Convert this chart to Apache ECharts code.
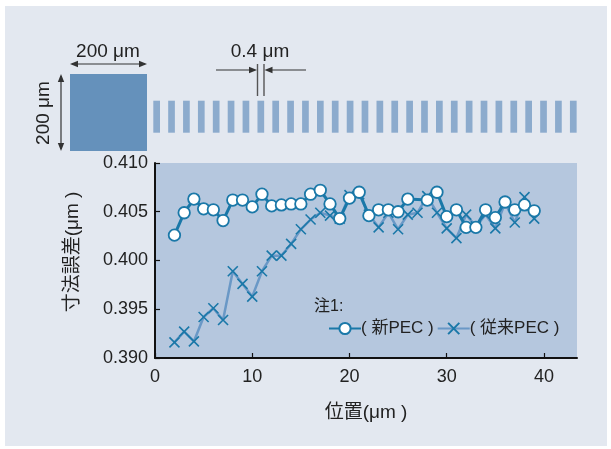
<!DOCTYPE html>
<html>
<head>
<meta charset="utf-8">
<script src="https://cdn.jsdelivr.net/npm/echarts@6/dist/echarts.min.js"></script>
<style>
html,body{margin:0;padding:0;background:#ffffff;}
#chart{width:611px;height:449px;}
</style>
</head>
<body>
<div id="chart"></div>
<script>
// ---- data ----
const xTicks = [0, 10, 20, 30, 40];
const yTicks = [0.390, 0.395, 0.400, 0.405, 0.410];
const newX    = [2,3,4,5,6,7,8,9,10,11,12,13,14,15,16,17,18,19,20,21,22,23,24,25,26,28,29,30,31,32,33,34,35,36,37,38,39];
const newVals = [0.4026,0.4049,0.4063,0.4053,0.4052,0.4041,0.4062,0.4062,0.4055,0.4068,0.4056,0.4057,0.4058,0.4058,0.4068,0.4072,0.4058,0.4043,0.4064,0.4070,0.4046,0.4052,0.4052,0.4050,0.4063,0.4062,0.4070,0.4045,0.4052,0.4034,0.4034,0.4052,0.4044,0.4060,0.4052,0.4057,0.4051];
const convX    = [2,3,4,5,6,7,8,9,10,11,12,13,14,15,16,17,18,19,20,21,22,23,24,25,26,27,28,29,30,31,32,33,34,35,36,37,38,39];
const convVals = [0.3916,0.3927,0.3917,0.3942,0.3951,0.3939,0.3989,0.3976,0.3963,0.3989,0.4005,0.4005,0.4017,0.4032,0.4042,0.4049,0.4046,0.4043,0.4067,0.4068,0.4047,0.4034,0.4049,0.4032,0.4047,0.4049,0.4066,0.4049,0.4033,0.4023,0.4047,0.4035,0.4047,0.4033,0.4059,0.4039,0.4065,0.4043];
const seriesNames = ['( 新PEC )', '( 従来PEC )'];
const yName = '寸法誤差(μm )';
const xName = '位置(μm )';
const noteText = '注1:';

const FONT = '"Liberation Sans", "Noto Sans CJK JP", sans-serif';
const TXT = '#222222';

const chart = echarts.init(document.getElementById('chart'), null, {renderer: 'canvas'});

// top diagram graphics
const g = [];
g.push({type:'rect', z:-100, shape:{x:5,y:6,width:602,height:440}, style:{fill:'#e3e8f0'}});
g.push({type:'rect', shape:{x:70,y:74,width:77,height:77}, style:{fill:'#6591bb'}});
for (let k = 0; k < 29; k++) {
  g.push({type:'rect', shape:{x:153.3 + k*14.88, y:100.7, width:6.7, height:32}, style:{fill:'#8cabcd'}});
}
const LC = '#333333';
function arrowHead(tx, ty, dir) {
  const L = 8, W = 3.2;
  let pts;
  if (dir === 'r') pts = [[tx,ty],[tx-L,ty-W],[tx-L,ty+W]];
  if (dir === 'l') pts = [[tx,ty],[tx+L,ty-W],[tx+L,ty+W]];
  if (dir === 'u') pts = [[tx,ty],[tx-W,ty+L],[tx+W,ty+L]];
  if (dir === 'd') pts = [[tx,ty],[tx-W,ty-L],[tx+W,ty-L]];
  return {type:'polygon', shape:{points:pts}, style:{fill:LC}};
}
// horizontal 200um
g.push({type:'line', shape:{x1:72,y1:64,x2:145,y2:64}, style:{stroke:LC,lineWidth:1.2}});
g.push(arrowHead(70,64,'l'));
g.push(arrowHead(147,64,'r'));
g.push({type:'text', style:{text:'200 μm', x:108, y:52, align:'center', verticalAlign:'middle', font:'19px '+FONT, fill:TXT}});
// vertical 200um
g.push({type:'line', shape:{x1:61,y1:76,x2:61,y2:149}, style:{stroke:LC,lineWidth:1.2}});
g.push(arrowHead(61,74,'u'));
g.push(arrowHead(61,151,'d'));
g.push({type:'text', rotation:Math.PI/2, x:44, y:113, style:{text:'200 μm', x:0, y:0, align:'center', verticalAlign:'middle', font:'19px '+FONT, fill:TXT}});
// 0.4 um
g.push({type:'line', shape:{x1:257.5,y1:64,x2:257.5,y2:96}, style:{stroke:'#555555',lineWidth:1.4}});
g.push({type:'line', shape:{x1:264,y1:64,x2:264,y2:96}, style:{stroke:'#555555',lineWidth:1.4}});
g.push({type:'line', shape:{x1:216,y1:70,x2:251,y2:70}, style:{stroke:LC,lineWidth:1.2}});
g.push(arrowHead(257,70,'r'));
g.push({type:'line', shape:{x1:270,y1:70,x2:306,y2:70}, style:{stroke:LC,lineWidth:1.2}});
g.push(arrowHead(264.5,70,'l'));
g.push({type:'text', style:{text:'0.4 μm', x:260, y:52, align:'center', verticalAlign:'middle', font:'19px '+FONT, fill:TXT}});
// axis names
g.push({type:'text', rotation:Math.PI/2, x:73, y:252, style:{text:yName, x:0, y:0, align:'center', verticalAlign:'middle', font:'19px '+FONT, fill:TXT}});
g.push({type:'text', style:{text:xName, x:366, y:413, align:'center', verticalAlign:'middle', font:'19px '+FONT, fill:TXT}});
// note
g.push({type:'text', z:10, style:{text:noteText, x:314, y:307, align:'left', verticalAlign:'middle', font:'16px '+FONT, fill:TXT}});

const newData = newX.map((x, i) => [x, newVals[i]]);
const convData = convX.map((x, i) => [x, convVals[i]]);

const option = {
  animation: false,
  backgroundColor: 'transparent',
  graphic: g,
  grid: {left:155, top:163, right:34, bottom:91, show:true, backgroundColor:'#b5c7de', borderWidth:0},
  legend: {
    data: seriesNames,
    left: 323, top: 315,
    itemWidth: 32, itemHeight: 14, itemGap: 3,
    textStyle: {fontSize:17, fontFamily:FONT, color:TXT, padding:[0,0,0,-5]}
  },
  xAxis: {
    type:'value', min:0, max:43.4,
    axisLine:{show:true, lineStyle:{color:'#111', width:2}},
    axisTick:{show:true, inside:true, length:5, customValues:xTicks, lineStyle:{color:'#111', width:1.2}},
    axisLabel:{customValues:xTicks, margin:10, fontSize:18, fontFamily:FONT, color:TXT},
    splitLine:{show:false}
  },
  yAxis: {
    type:'value', min:0.390, max:0.410,
    axisLine:{show:true, lineStyle:{color:'#111', width:2}},
    axisTick:{show:true, inside:true, length:5, customValues:yTicks, lineStyle:{color:'#111', width:1.2}},
    axisLabel:{customValues:yTicks, margin:7, fontSize:18, fontFamily:FONT, color:TXT, formatter:v => v.toFixed(3)},
    splitLine:{show:false}
  },
  series: [
    {
      name: seriesNames[1], type:'line', data: convData, z:2,
      symbol:'path://M0,0L10,10M10,0L0,10', symbolSize:10,
      lineStyle:{color:'#6a98c6', width:2.5},
      itemStyle:{color:'rgba(0,0,0,0)', borderColor:'#1a78a8', borderWidth:1.6},
      emphasis:{disabled:true}
    },
    {
      name: seriesNames[0], type:'line', data: newData, z:3,
      symbol:'circle', symbolSize:11.5,
      lineStyle:{color:'#1a78a8', width:3},
      itemStyle:{color:'#ffffff', borderColor:'#1a78a8', borderWidth:1.8},
      emphasis:{disabled:true}
    }
  ]
};
chart.setOption(option);
</script>
</body>
</html>
